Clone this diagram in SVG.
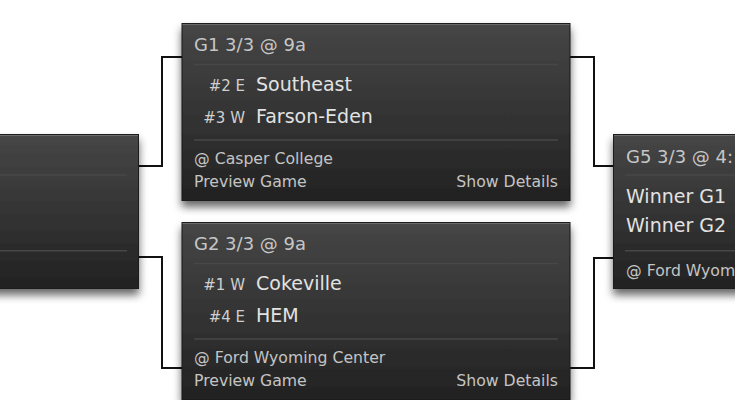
<svg xmlns="http://www.w3.org/2000/svg" width="735" height="400" viewBox="0 0 735 400">
<defs>
<linearGradient id="bg" x1="0" y1="0" x2="0" y2="1">
<stop offset="0" stop-color="#464646"/>
<stop offset="1" stop-color="#222222"/>
</linearGradient>
<filter id="sh" x="-10%" y="-10%" width="120%" height="130%">
<feDropShadow dx="0" dy="6" stdDeviation="4" flood-color="#000" flood-opacity="0.6"/>
</filter>
</defs>
<style>
.box{fill:url(#bg);stroke:#1a1a1a;stroke-width:1}
.hl{stroke:#6a6a6a;stroke-width:1}
.sep{stroke:#474747;stroke-width:1.5}
.con{fill:none;stroke:#111;stroke-width:2}
text{font-family:"DejaVu Sans",Verdana,sans-serif}
.hdr{font-size:18px;fill:#c6c6c6}
.seed{font-size:15px;fill:#cfcfcf;text-anchor:end}
.team{font-size:19px;fill:#e2e2e2}
.ft{font-size:15.7px;fill:#c4c4c4}
.r{text-anchor:end}
</style>
<g id="connectors">
<polyline class="con" points="139,166 162,166 162,57 182,57"/>
<polyline class="con" points="139,257 162,257 162,368 182,368"/>
<polyline class="con" points="570,57 594,57 594,166 613,166"/>
<polyline class="con" points="570,368 594,368 594,258 613,258"/>
</g>
<g id="L">
<rect class="box" x="-10.5" y="134.5" width="149" height="154" filter="url(#sh)"/>
<line class="hl" x1="-10" y1="135.5" x2="138" y2="135.5"/>
<line class="sep" x1="-10" y1="175" x2="127" y2="175"/>
<line class="sep" x1="-10" y1="250.7" x2="127" y2="250.7"/>
</g>
<g id="G1">
<rect class="box" x="182" y="23.5" width="388" height="177" filter="url(#sh)"/>
<line class="hl" x1="182.5" y1="24.5" x2="569.5" y2="24.5"/>
<text class="hdr" x="194" y="51">G1 3/3 @ 9a</text>
<line class="sep" x1="194" y1="64.5" x2="558" y2="64.5"/>
<text class="seed" x="245" y="91">#2 E</text>
<text class="team" x="256" y="91">Southeast</text>
<text class="seed" x="245" y="122.5">#3 W</text>
<text class="team" x="256" y="122.5">Farson-Eden</text>
<line class="sep" x1="194" y1="140" x2="558" y2="140"/>
<text class="ft" x="194" y="164">@ Casper College</text>
<text class="ft" x="194" y="186.5">Preview Game</text>
<text class="ft r" x="558" y="186.5">Show Details</text>
</g>
<g id="G2">
<rect class="box" x="182" y="222.5" width="388" height="177" filter="url(#sh)"/>
<line class="hl" x1="182.5" y1="223.5" x2="569.5" y2="223.5"/>
<text class="hdr" x="194" y="250">G2 3/3 @ 9a</text>
<line class="sep" x1="194" y1="263.5" x2="558" y2="263.5"/>
<text class="seed" x="245" y="290">#1 W</text>
<text class="team" x="256" y="290">Cokeville</text>
<text class="seed" x="245" y="322">#4 E</text>
<text class="team" x="256" y="322">HEM</text>
<line class="sep" x1="194" y1="339" x2="558" y2="339"/>
<text class="ft" x="194" y="363">@ Ford Wyoming Center</text>
<text class="ft" x="194" y="385.5">Preview Game</text>
<text class="ft r" x="558" y="385.5">Show Details</text>
</g>
<g id="G5">
<rect class="box" x="613.5" y="134.5" width="160" height="154" filter="url(#sh)"/>
<line class="hl" x1="614" y1="135.5" x2="773" y2="135.5"/>
<text class="hdr" x="626" y="162.5">G5 3/3 @ 4:</text>
<line class="sep" x1="625" y1="175" x2="760" y2="175"/>
<text class="team" x="626" y="202.5">Winner G1</text>
<text class="team" x="626" y="231.5">Winner G2</text>
<line class="sep" x1="625" y1="250.7" x2="760" y2="250.7"/>
<text class="ft" x="626" y="275.5">@ Ford Wyom</text>
</g>
</svg>
